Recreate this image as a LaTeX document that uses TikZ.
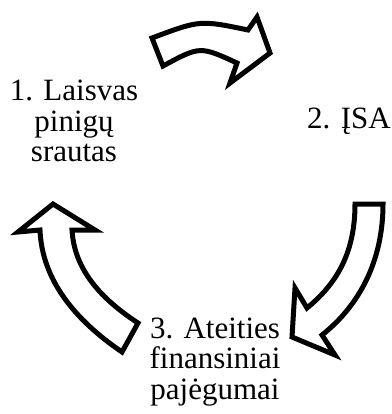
\documentclass[tikz,border=0pt]{standalone}
\usepackage{fontspec}
\setmainfont{Liberation Serif}
\begin{document}
\begin{tikzpicture}[x=1pt,y=-1pt,
  cyclearrow/.style={draw=black, fill=white, line width=5pt, line join=miter},
  steplabel/.style={font=\fontsize{31}{30.5}\selectfont, align=center, inner sep=0pt}]
\useasboundingbox (0,0) rectangle (391,414);

% curved arrows of the cycle
\draw[cyclearrow] (152,38) .. controls (200,20) .. (248,30) -- (257,17) -- (270,53)
  -- (230,83) -- (237,63) .. controls (200,46) .. (163,66) -- cycle;
\draw[cyclearrow] (355,204) -- (383,204) .. controls (383,260) and (360,305) .. (322,335)
  -- (335,355) -- (292,337) -- (295,288) -- (307,308)
  .. controls (335,285) and (355,255) .. (355,204) -- cycle;
\draw[cyclearrow] (53,204) -- (95,230) -- (72,230) .. controls (74,265) and (95,295) .. (138,323)
  -- (122,352) .. controls (75,320) and (42,280) .. (40,230) -- (18,232) -- cycle;

% step labels
\node[steplabel] (s1) at (74,121) {1. Laisvas\\pinigų\\srautas};
\node[steplabel] (s2) at (349,121) {2. ĮSA};
\node[steplabel] (s3) at (215,362) {3. Ateities\\finansiniai\\pajėgumai};
\end{tikzpicture}
\end{document}
